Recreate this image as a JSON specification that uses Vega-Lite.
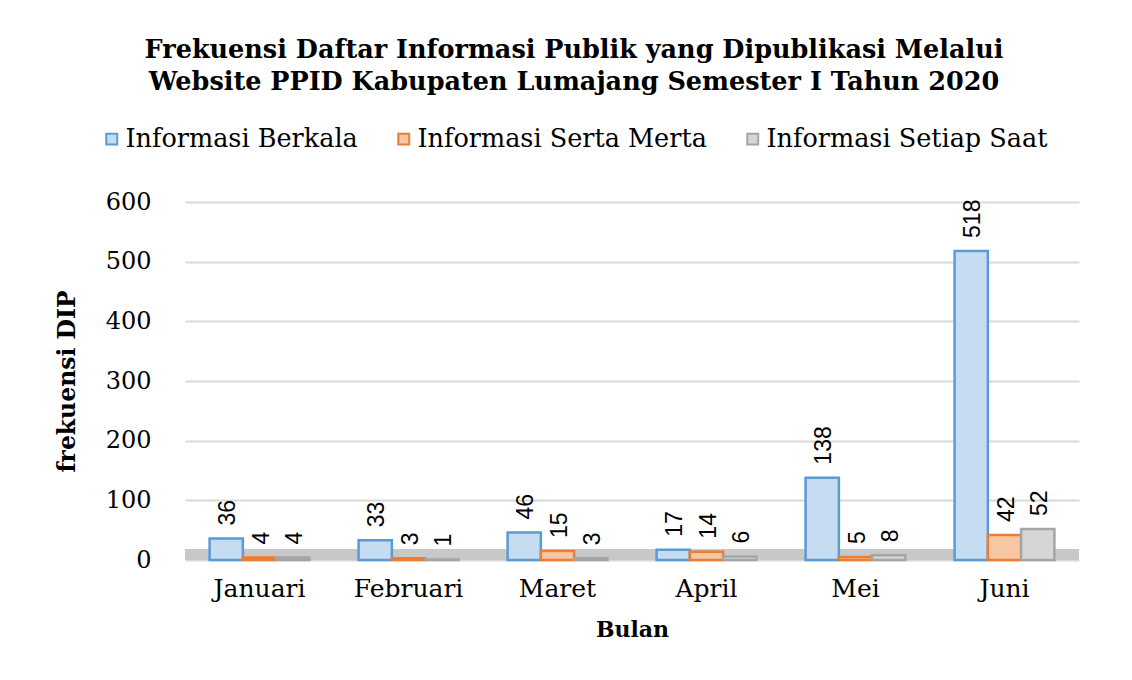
{
  "$schema": "https://vega.github.io/schema/vega-lite/v6.json",
  "width": 894,
  "height": 358,
  "autosize": {"type": "none"},
  "padding": {"left": 185, "top": 202, "right": 53, "bottom": 120},
  "background": "white",
  "config": {"view": {"stroke": null}},
  "title": {
    "text": ["Frekuensi Daftar Informasi Publik yang Dipublikasi Melalui", "Website PPID Kabupaten Lumajang Semester I Tahun 2020"],
    "font": "DejaVu Serif",
    "fontSize": 25.5,
    "fontWeight": "bold",
    "color": "black",
    "anchor": "middle",
    "dx": -58,
    "offset": 31,
    "lineHeight": 32
  },
  "data": {
    "values": [
      {"Bulan": "Januari", "Jenis": "Informasi Berkala", "Nilai": 36},
      {"Bulan": "Januari", "Jenis": "Informasi Serta Merta", "Nilai": 4},
      {"Bulan": "Januari", "Jenis": "Informasi Setiap Saat", "Nilai": 4},
      {"Bulan": "Februari", "Jenis": "Informasi Berkala", "Nilai": 33},
      {"Bulan": "Februari", "Jenis": "Informasi Serta Merta", "Nilai": 3},
      {"Bulan": "Februari", "Jenis": "Informasi Setiap Saat", "Nilai": 1},
      {"Bulan": "Maret", "Jenis": "Informasi Berkala", "Nilai": 46},
      {"Bulan": "Maret", "Jenis": "Informasi Serta Merta", "Nilai": 15},
      {"Bulan": "Maret", "Jenis": "Informasi Setiap Saat", "Nilai": 3},
      {"Bulan": "April", "Jenis": "Informasi Berkala", "Nilai": 17},
      {"Bulan": "April", "Jenis": "Informasi Serta Merta", "Nilai": 14},
      {"Bulan": "April", "Jenis": "Informasi Setiap Saat", "Nilai": 6},
      {"Bulan": "Mei", "Jenis": "Informasi Berkala", "Nilai": 138},
      {"Bulan": "Mei", "Jenis": "Informasi Serta Merta", "Nilai": 5},
      {"Bulan": "Mei", "Jenis": "Informasi Setiap Saat", "Nilai": 8},
      {"Bulan": "Juni", "Jenis": "Informasi Berkala", "Nilai": 518},
      {"Bulan": "Juni", "Jenis": "Informasi Serta Merta", "Nilai": 42},
      {"Bulan": "Juni", "Jenis": "Informasi Setiap Saat", "Nilai": 52}
    ]
  },
  "encoding": {
    "x": {
      "field": "Bulan",
      "type": "nominal",
      "sort": ["Januari", "Februari", "Maret", "April", "Mei", "Juni"],
      "scale": {"paddingInner": 0.33, "paddingOuter": 0.165},
      "axis": {
        "title": "Bulan",
        "labelAngle": 0,
        "labelFont": "DejaVu Serif",
        "labelFontSize": 25,
        "labelColor": "black",
        "labelPadding": 16,
        "domain": false,
        "ticks": false,
        "titleFont": "DejaVu Serif",
        "titleFontSize": 22,
        "titleFontWeight": "bold",
        "titleColor": "black",
        "titlePadding": 18
      }
    }
  },
  "layer": [
    {
      "mark": {"type": "rect", "color": "#C8C8C8"},
      "encoding": {
        "x": null,
        "y": {"datum": 0, "type": "quantitative", "scale": {"domain": [0, 600]}, "axis": {
            "title": "frekuensi DIP",
            "values": [0, 100, 200, 300, 400, 500, 600],
            "grid": true,
            "labelFont": "DejaVu Serif",
            "labelFontSize": 24,
            "labelColor": "black",
            "labelPadding": 34,
            "domain": false,
            "ticks": false,
            "gridColor": "#D9D9D9",
            "gridWidth": 2,
            "titleFont": "DejaVu Serif",
            "titleFontSize": 23.5,
            "titleFontWeight": "bold",
            "titleColor": "black",
            "titlePadding": 26
          }},
        "y2": {"datum": 18}
      }
    },
    {
      "mark": {"type": "bar", "strokeWidth": 2.5},
      "encoding": {
        "xOffset": {"field": "Jenis", "type": "nominal", "sort": ["Informasi Berkala", "Informasi Serta Merta", "Informasi Setiap Saat"]},
        "y": {
          "field": "Nilai",
          "type": "quantitative"
        },
        "fill": {
          "field": "Jenis",
          "type": "nominal",
          "scale": {"domain": ["Informasi Berkala", "Informasi Serta Merta", "Informasi Setiap Saat"], "range": ["#C6DCF1", "#F7C6A3", "#D6D6D6"]},
          "legend": {
            "title": null,
            "orient": "none",
            "direction": "horizontal",
            "legendX": -86,
            "legendY": -76,
            "symbolType": "square",
            "symbolSize": 120,
            "symbolStrokeWidth": 2,
            "labelFont": "DejaVu Serif",
            "labelFontSize": 25.5,
            "labelColor": "black",
            "labelOffset": 1,
            "labelLimit": 500,
            "columnPadding": 33
          }
        },
        "stroke": {
          "field": "Jenis",
          "type": "nominal",
          "scale": {"domain": ["Informasi Berkala", "Informasi Serta Merta", "Informasi Setiap Saat"], "range": ["#5B9BD5", "#ED7D31", "#A5A5A5"]},
          "legend": null
        }
      }
    },
    {
      "mark": {"type": "text", "angle": 270, "align": "left", "baseline": "middle", "dx": 13, "dy": 2, "font": "Liberation Sans", "fontSize": 23, "color": "black"},
      "encoding": {
        "xOffset": {"field": "Jenis", "type": "nominal", "sort": ["Informasi Berkala", "Informasi Serta Merta", "Informasi Setiap Saat"]},
        "y": {"field": "Nilai", "type": "quantitative"},
        "text": {"field": "Nilai", "type": "quantitative"}
      }
    }
  ]
}
